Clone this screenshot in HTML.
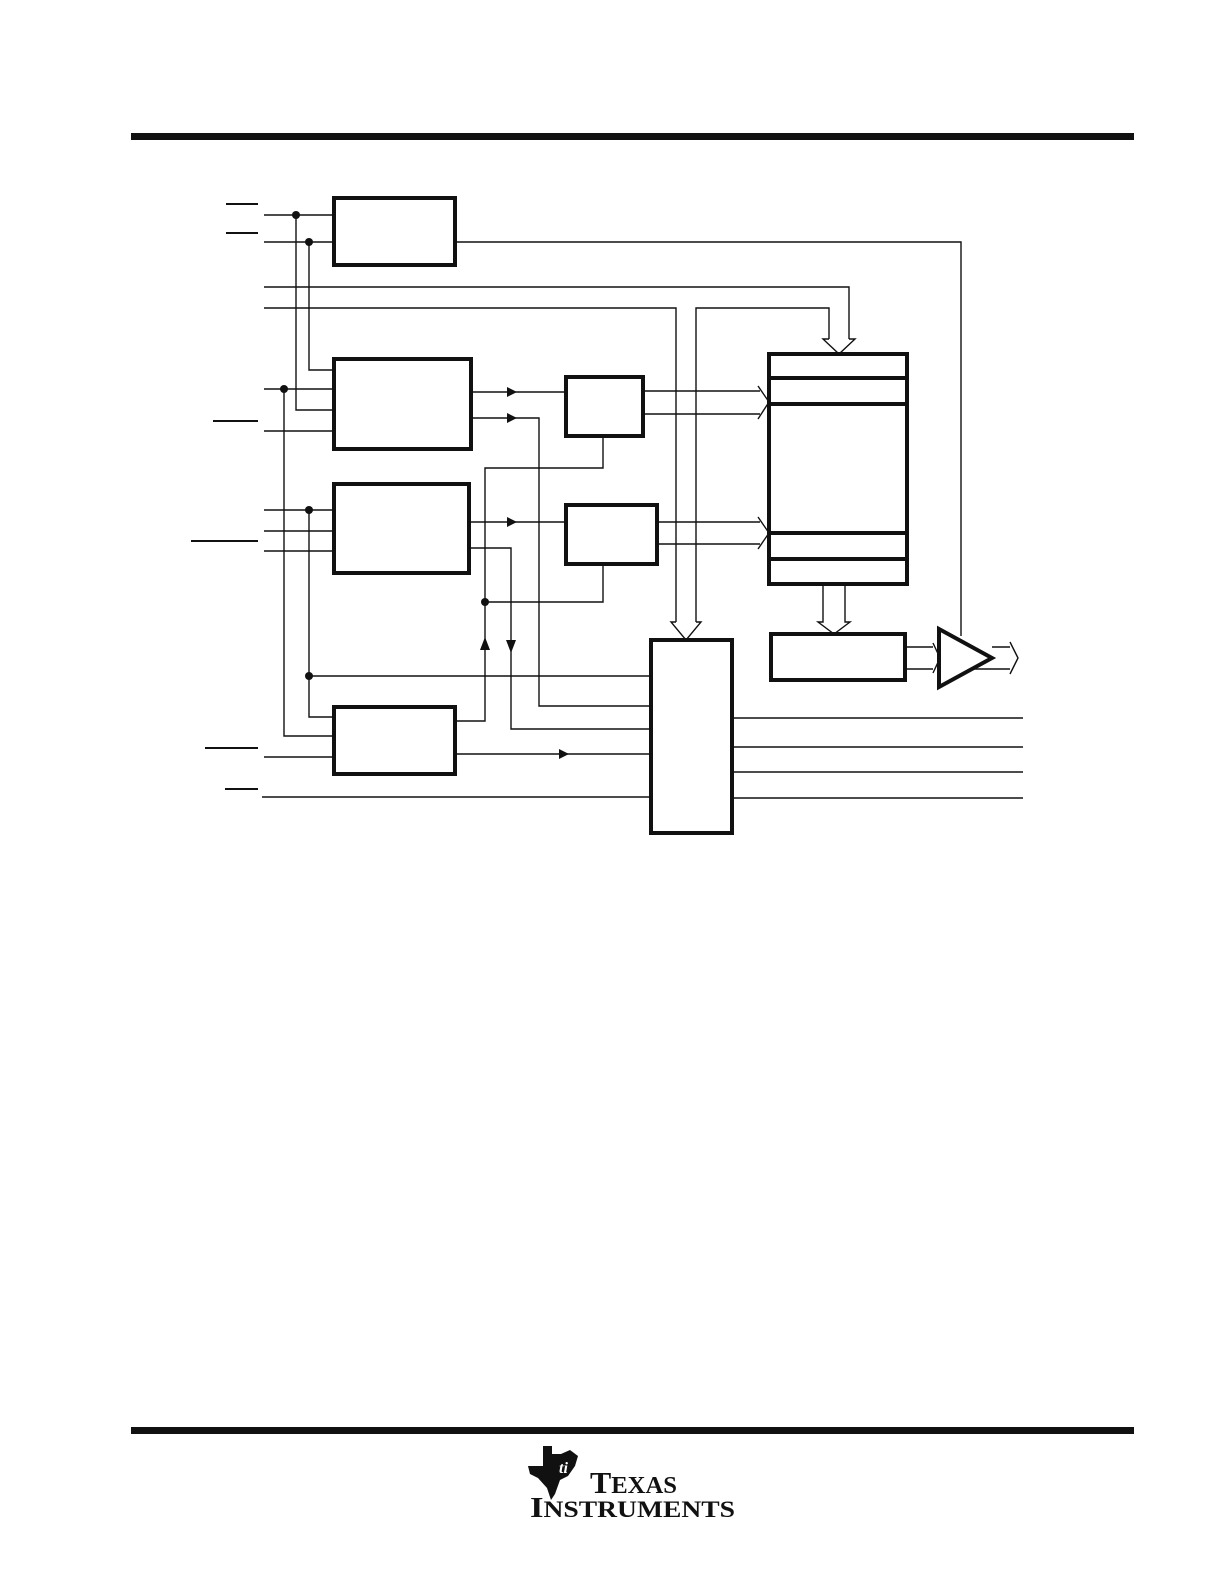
<!DOCTYPE html>
<html><head><meta charset="utf-8"><style>
html,body{margin:0;padding:0;background:#fff;}
svg{display:block;}
</style></head><body>
<svg width="1225" height="1585" viewBox="0 0 1225 1585" xmlns="http://www.w3.org/2000/svg">
<rect x="131" y="133" width="1003" height="7" fill="#111"/>
<rect x="131" y="1427" width="1003" height="7" fill="#111"/>

<g stroke="#111" stroke-width="2" fill="none">
<line x1="226" y1="204" x2="258" y2="204"/>
<line x1="226" y1="233" x2="258" y2="233"/>
<line x1="213" y1="421" x2="258" y2="421"/>
<line x1="191" y1="541" x2="258" y2="541"/>
<line x1="205" y1="748" x2="258" y2="748"/>
<line x1="225" y1="789" x2="258" y2="789"/>
</g>

<g stroke="#111" stroke-width="4" fill="#fff">
<rect x="334" y="198" width="121" height="67"/>
<rect x="334" y="359" width="137" height="90"/>
<rect x="334" y="484" width="135" height="89"/>
<rect x="334" y="707" width="121" height="67"/>
<rect x="566" y="377" width="77" height="59"/>
<rect x="566" y="505" width="91" height="59"/>
<rect x="651" y="640" width="81" height="193"/>
<rect x="769" y="354" width="138" height="230"/>
<rect x="771" y="634" width="134" height="46"/>
<line x1="769" y1="378" x2="907" y2="378"/>
<line x1="769" y1="404" x2="907" y2="404"/>
<line x1="769" y1="533" x2="907" y2="533"/>
<line x1="769" y1="559" x2="907" y2="559"/>
<polygon points="939,629 992,658 939,687"/>
</g>

<g stroke="#111" stroke-width="1.4" fill="none">
<line x1="264" y1="215" x2="334" y2="215"/>
<line x1="264" y1="242" x2="334" y2="242"/>
<polyline points="296,215 296,410 334,410"/>
<polyline points="309,242 309,370 334,370"/>
<polyline points="455,242 961,242 961,636"/>
<polyline points="264,287 849,287 849,339"/>
<polyline points="264,308 676,308 676,622"/>
<polyline points="696,622 696,308 829,308 829,339"/>
<line x1="264" y1="389" x2="334" y2="389"/>
<line x1="264" y1="431" x2="334" y2="431"/>
<polyline points="284,389 284,736 334,736"/>
<line x1="471" y1="392" x2="566" y2="392"/>
<polyline points="471,418 539,418 539,706 651,706"/>
<line x1="643" y1="391" x2="760" y2="391"/>
<line x1="643" y1="414" x2="760" y2="414"/>
<polyline points="758,386 769,402 758,419"/>
<polyline points="603,436 603,468 485,468 485,721 455,721"/>
<polyline points="603,564 603,602 485,602"/>
<line x1="264" y1="510" x2="334" y2="510"/>
<line x1="264" y1="531" x2="334" y2="531"/>
<line x1="264" y1="551" x2="334" y2="551"/>
<polyline points="309,510 309,717 334,717"/>
<line x1="309" y1="676" x2="651" y2="676"/>
<line x1="469" y1="522" x2="566" y2="522"/>
<polyline points="469,548 511,548 511,729 651,729"/>
<line x1="657" y1="522" x2="760" y2="522"/>
<line x1="657" y1="544" x2="760" y2="544"/>
<polyline points="758,517 769,533 758,549"/>
<line x1="264" y1="757" x2="334" y2="757"/>
<line x1="455" y1="754" x2="651" y2="754"/>
<line x1="262" y1="797" x2="651" y2="797"/>
<line x1="732" y1="718" x2="1023" y2="718"/>
<line x1="732" y1="747" x2="1023" y2="747"/>
<line x1="732" y1="772" x2="1023" y2="772"/>
<line x1="732" y1="798" x2="1023" y2="798"/>
<polyline points="829,339 823,339 839,354 855,339 849,339"/>
<polyline points="676,622 671,622 686,640 701,622 696,622"/>
<polyline points="823,584 823,622 818,622 834,634 850,622 845,622 845,584"/>
<line x1="905" y1="647" x2="933" y2="647"/>
<line x1="905" y1="669" x2="933" y2="669"/>
<polyline points="933,643 940,658 933,673"/>
<line x1="992" y1="647" x2="1010" y2="647"/>
<line x1="972" y1="669" x2="1010" y2="669"/>
<polyline points="1010,642 1018,658 1010,674"/>
</g>

<g fill="#111">
<circle cx="296" cy="215" r="4"/>
<circle cx="309" cy="242" r="4"/>
<circle cx="284" cy="389" r="4"/>
<circle cx="309" cy="510" r="4"/>
<circle cx="485" cy="602" r="4"/>
<circle cx="309" cy="676" r="4"/>
<polygon points="507,387 517,392 507,397"/>
<polygon points="507,413 517,418 507,423"/>
<polygon points="507,517 517,522 507,527"/>
<polygon points="559,749 569,754 559,759"/>
<polygon points="480,650 485,637 490,650"/>
<polygon points="506,640 516,640 511,653"/>
<polygon points="543,1446 552,1446 552,1454 561,1454 570,1450 578,1456 575,1466 568,1476 560,1480 555,1494 551,1500 547,1488 538,1478 530,1474 528,1466 543,1466"/>
</g>
<text x="559" y="1473" font-family="Liberation Serif, serif" font-size="16" font-style="italic" font-weight="bold" fill="#fff">ti</text>
<text x="590" y="1493" font-family="Liberation Serif, serif" font-size="31" font-weight="bold" fill="#111" textLength="87" lengthAdjust="spacingAndGlyphs">T<tspan font-size="24">EXAS</tspan></text>
<text x="530" y="1517" font-family="Liberation Serif, serif" font-size="29" font-weight="bold" fill="#111" textLength="205" lengthAdjust="spacingAndGlyphs">I<tspan font-size="23">NSTRUMENTS</tspan></text>
</svg>
</body></html>
